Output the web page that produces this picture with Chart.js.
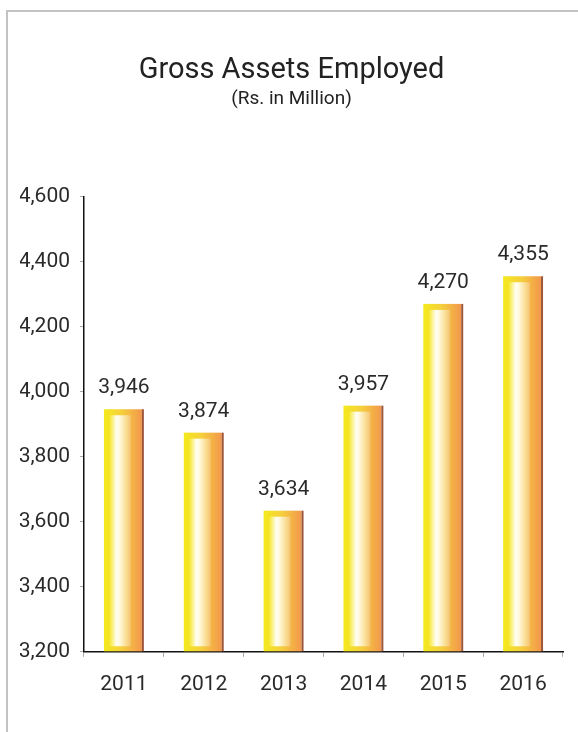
<!DOCTYPE html>
<html>
<head>
<meta charset="utf-8">
<title>Gross Assets Employed</title>
<script src="https://cdn.jsdelivr.net/npm/chart.js@4/dist/chart.umd.min.js"></script>
<style>
    html, body { margin: 0; padding: 0; background: #fff; }
    #wrap { position: relative; width: 578px; height: 732px; }
    #frame {
        position: absolute; left: 6px; top: 10px; right: 0; bottom: 0;
        border-top: 2.5px solid #c3c3c3; border-left: 2.5px solid #c3c3c3;
    }
    #chart { position: absolute; left: 0; top: 0; }
</style>
</head>
<body>
<div id="wrap">
    <div id="frame"></div>
    <canvas id="chart" width="578" height="732"></canvas>
</div>
<script>
// Chart data
var years = ['2011', '2012', '2013', '2014', '2015', '2016'];
var grossAssets = [3946, 3874, 3634, 3957, 4270, 4355];
var yTicks = [3200, 3400, 3600, 3800, 4000, 4200, 4400, 4600];

var FONT = "Roboto, 'Liberation Sans', sans-serif";

function fmt(v) {
    return Number(v).toLocaleString('en-US');
}

// Paint the cylinder-like bars + value labels on top of the library's bar geometry
var fancyBars = {
    id: 'fancyBars',
    afterDatasetsDraw: function(chart) {
        var ctx = chart.ctx;
        var area = chart.chartArea;
        var meta = chart.getDatasetMeta(0);
        meta.data.forEach(function(bar, i) {
            var left = bar.x - bar.width / 2;
            var right = bar.x + bar.width / 2;
            var top = bar.y;
            var base = Math.min(bar.base, area.bottom) - 0.5;

            ctx.save();
            // outer body: yellow -> orange
            var g = ctx.createLinearGradient(left, 0, right, 0);
            g.addColorStop(0, '#f4ea1c');
            g.addColorStop(0.45, '#f5cf3c');
            g.addColorStop(1, '#f2924e');
            ctx.fillStyle = g;
            ctx.fillRect(left, top, right - left - 2, base - top);

            // dark right edge
            ctx.fillStyle = '#9c573a';
            ctx.fillRect(right - 2, top, 2, base - top);

            // inner highlight
            var il = left + 5, ir = right - 13;
            var g2 = ctx.createLinearGradient(il, 0, ir, 0);
            g2.addColorStop(0, '#f5e51e');
            g2.addColorStop(0.35, '#fffef4');
            g2.addColorStop(0.5, '#fff8da');
            g2.addColorStop(0.8, '#f9dc90');
            g2.addColorStop(1, '#f6c070');
            ctx.fillStyle = g2;
            ctx.fillRect(il, top + 6, ir - il, base - top - 11);

            // value label
            ctx.fillStyle = '#2a2a2a';
            ctx.font = '21px ' + FONT;
            ctx.textAlign = 'center';
            ctx.textBaseline = 'alphabetic';
            ctx.fillText(fmt(grossAssets[i]), bar.x, top - 16);
            ctx.restore();
        });
    }
};

var ctx = document.getElementById('chart').getContext('2d');
var chart = new Chart(ctx, {
    type: 'bar',
    data: {
        labels: years,
        datasets: [{
            label: 'Gross Assets Employed',
            data: grossAssets,
            backgroundColor: 'rgba(0,0,0,0)',
            borderWidth: 0,
            barPercentage: 0.5,
            categoryPercentage: 1
        }]
    },
    options: {
        responsive: false,
        animation: false,
        layout: {
            padding: { left: 20, right: 15, top: 0, bottom: 20 }
        },
        scales: {
            x: {
                grid: {
                    offset: true,
                    drawOnChartArea: false,
                    drawTicks: true,
                    tickLength: 5,
                    tickColor: '#aaaaaa'
                },
                border: { display: true, color: '#111', width: 1.5 },
                ticks: {
                    color: '#2a2a2a',
                    padding: 15,
                    font: { family: FONT, size: 21 }
                }
            },
            y: {
                min: 3200,
                max: 4600,
                afterFit: function(scale) { scale.width = 64; },
                afterBuildTicks: function(scale) {
                    scale.ticks = yTicks.map(function(v) { return { value: v }; });
                },
                grid: {
                    drawOnChartArea: false,
                    drawTicks: true,
                    tickLength: 4,
                    tickColor: '#aaaaaa'
                },
                border: { display: true, color: '#111', width: 1.5 },
                ticks: {
                    color: '#2a2a2a',
                    padding: 10,
                    font: { family: FONT, size: 21 },
                    callback: function(v) { return fmt(v); }
                }
            }
        },
        plugins: {
            legend: { display: false },
            tooltip: { enabled: false },
            title: {
                display: true,
                text: 'Gross Assets Employed',
                color: '#222',
                font: { family: FONT, size: 29, weight: 'normal' },
                padding: { top: 53, bottom: 0 }
            },
            subtitle: {
                display: true,
                text: '(Rs. in Million)',
                color: '#222',
                font: { family: FONT, size: 19, weight: 'normal' },
                padding: { top: 0, bottom: 86 }
            }
        }
    },
    plugins: [fancyBars]
});
</script>
</body>
</html>
